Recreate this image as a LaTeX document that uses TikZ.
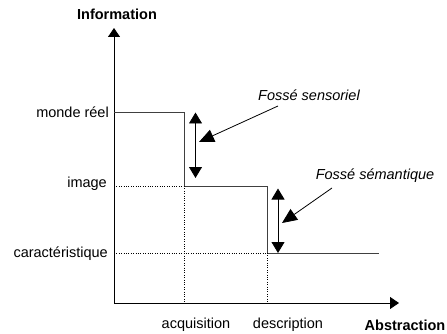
\documentclass[tikz,border=0pt]{standalone}
\usepackage{fontspec}
\setmainfont{Liberation Sans}
\usetikzlibrary{arrows.meta}
\begin{document}
\begin{tikzpicture}[x=1pt,y=-1pt,
  lbl/.style={inner sep=0pt,font=\fontsize{14.5}{16}\selectfont},
  axislbl/.style={lbl,font=\fontsize{14.5}{16}\selectfont\bfseries},
  gaplbl/.style={lbl,font=\fontsize{14.5}{16}\selectfont\itshape},
  axis/.style={line width=0.9pt,-{Triangle[length=9pt,width=12pt]}},
  stepline/.style={line width=0.9pt,draw=black!75},
  guide/.style={line width=0.8pt,dash pattern=on 0.8pt off 1.6pt},
  gap/.style={line width=0.8pt,{Triangle[length=11pt,width=13pt]}-{Triangle[length=11pt,width=13pt]}},
  pointer/.style={line width=0.8pt,-{Triangle[length=15pt,width=13pt]}}]
\useasboundingbox (0,0) rectangle (447,334);
% axes
\coordinate (O) at (114,303);
\coordinate (Ytop) at (114,28);
\coordinate (Xend) at (399,303);
\draw[axis] (O) -- (Ytop);
\draw[axis] (O) -- (Xend);
\node[axislbl] (info) at (117,14) {Information};
\node[axislbl] (abst) at (405,325) {Abstraction};
% level labels
\node[lbl,anchor=east] (monde) at (109,112) {monde réel};
\node[lbl,anchor=east] (image) at (107,184) {image};
\node[lbl,anchor=east] (carac) at (108,254) {caractéristique};
\node[lbl] (acq) at (196,325) {acquisition};
\node[lbl] (desc) at (288,325) {description};
% step curve
\coordinate (m0) at (114,112);
\coordinate (m1) at (184,112);
\coordinate (i1) at (184,186);
\coordinate (i2) at (267,186);
\coordinate (c2) at (267,253);
\coordinate (c3) at (379,253);
\draw[stepline] (m0) -- (m1) -- (i1) -- (i2) -- (c2) -- (c3);
% guides
\coordinate (i0) at (114,186);
\coordinate (c0) at (114,253);
\coordinate (a0) at (184,303);
\coordinate (d0) at (267,303);
\draw[guide] (i0) -- (i1);
\draw[guide] (c0) -- (c2);
\draw[guide] (i1) -- (a0);
\draw[guide] (c2) -- (d0);
% gaps
\coordinate (g1t) at (195.5,112.5);
\coordinate (g1b) at (195.5,178);
\coordinate (g2t) at (278,188.5);
\coordinate (g2b) at (278,253);
\draw[gap] (g1t) -- (g1b);
\draw[gap] (g2t) -- (g2b);
\node[gaplbl] (fs) at (309,95) {Fossé sensoriel};
\node[gaplbl] (fm) at (375,176) {Fossé sémantique};
\coordinate (p1s) at (278,106);
\coordinate (p1e) at (199,142);
\coordinate (p2s) at (332,188);
\coordinate (p2e) at (282,223);
\draw[pointer] (p1s) -- (p1e);
\draw[pointer] (p2s) -- (p2e);
\end{tikzpicture}
\end{document}
